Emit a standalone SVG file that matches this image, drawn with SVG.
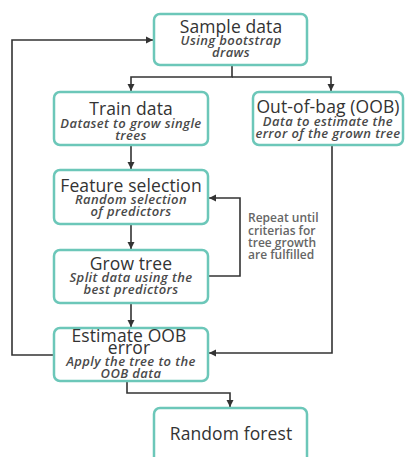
<svg xmlns="http://www.w3.org/2000/svg" width="405" height="457" viewBox="0 0 405 457">
<defs>
<marker id="ah" markerWidth="8" markerHeight="8" refX="7" refY="4" orient="auto" markerUnits="userSpaceOnUse">
<path d="M0,0.5 L7,4 L0,7.5 Z" fill="#333"/>
</marker>
<style>
.box{fill:#fff;stroke:#6cc7b9;stroke-width:2.5}
.t{font-family:"Open Sans","Liberation Sans",sans-serif;font-size:17.5px;letter-spacing:0.1px;font-weight:500;fill:#333;text-anchor:middle}
.s{font-family:"Open Sans","Liberation Sans",sans-serif;font-size:13px;letter-spacing:0.4px;font-style:italic;font-weight:600;fill:#4a4a4a;text-anchor:middle}
.r{font-family:"Open Sans","Liberation Sans",sans-serif;font-size:12px;font-weight:600;fill:#666}
.c{fill:none;stroke:#333;stroke-width:1.6}
</style>
</defs>
<rect width="405" height="457" fill="#fff"/>
<g id="connectors">
<path class="c" d="M232,65 V77 H131 V91" marker-end="url(#ah)"/>
<path class="c" d="M232,77 H331 V91" marker-end="url(#ah)"/>
<path class="c" d="M131,145 V169" marker-end="url(#ah)"/>
<path class="c" d="M131,224 V249" marker-end="url(#ah)"/>
<path class="c" d="M208,276 H240 V198 H209" marker-end="url(#ah)"/>
<path class="c" d="M131,303 V327" marker-end="url(#ah)"/>
<path class="c" d="M332,145 V353 H209" marker-end="url(#ah)"/>
<path class="c" d="M54,355 H12 V40 H153" marker-end="url(#ah)"/>
<path class="c" d="M127,381 V393 H230 V407" marker-end="url(#ah)"/>
<text class="r" x="248" y="222">Repeat until</text>
<text class="r" x="248" y="235">criterias for</text>
<text class="r" x="248" y="247">tree growth</text>
<text class="r" x="248" y="259">are fulfilled</text>
</g>
<g id="sample">
<rect class="box" x="154" y="14" width="153" height="51" rx="6"/>
<text class="t" x="231" y="33">Sample data</text>
<text class="s" x="231" y="45">Using bootstrap</text>
<text class="s" x="231" y="57">draws</text>
</g>
<g id="train">
<rect class="box" x="54" y="92" width="154" height="53" rx="6"/>
<text class="t" x="131" y="115">Train data</text>
<text class="s" x="131" y="128">Dataset to grow single</text>
<text class="s" x="131" y="140">trees</text>
</g>
<g id="oob">
<rect class="box" x="253" y="92" width="150" height="53" rx="6"/>
<text class="t" x="328" y="113">Out-of-bag (OOB)</text>
<text class="s" x="328" y="126">Data to estimate the</text>
<text class="s" x="328" y="138">error of the grown tree</text>
</g>
<g id="feature">
<rect class="box" x="54" y="170" width="154" height="54" rx="6"/>
<text class="t" x="131" y="192">Feature selection</text>
<text class="s" x="131" y="204">Random selection</text>
<text class="s" x="131" y="216">of predictors</text>
</g>
<g id="grow">
<rect class="box" x="54" y="250" width="154" height="53" rx="6"/>
<text class="t" x="131" y="270">Grow tree</text>
<text class="s" x="131" y="282">Split data using the</text>
<text class="s" x="131" y="294">best predictors</text>
</g>
<g id="estimate">
<rect class="box" x="54" y="328" width="154" height="53" rx="6"/>
<text class="t" x="129" y="342">Estimate OOB</text>
<text class="t" x="129" y="354">error</text>
<text class="s" x="131" y="366">Apply the tree to the</text>
<text class="s" x="131" y="378">OOB data</text>
</g>
<g id="forest">
<rect class="box" x="154" y="408" width="153" height="60" rx="6"/>
<text class="t" x="231" y="440">Random forest</text>
</g>
</svg>
